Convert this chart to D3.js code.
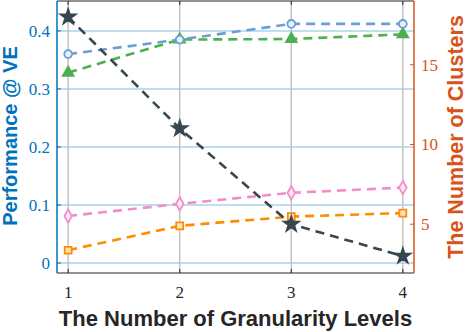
<!DOCTYPE html>
<html>
<head>
<meta charset="utf-8">
<script src="https://cdn.jsdelivr.net/npm/d3@7"></script>
<style>
  body { margin: 0; background: #fff; }
  svg { display: block; }
</style>
</head>
<body>
<div id="chart"></div>
<script>
// Granularity levels vs. performance (left) and cluster count (right)
const levels = [1, 2, 3, 4];
const xTicks = [1, 2, 3, 4];
const leftTicks = [0, 0.1, 0.2, 0.3, 0.4];
const rightTicks = [5, 10, 15];

// left-axis series
const circleVals = [0.360, 0.385, 0.412, 0.412];
const triVals = [0.328, 0.385, 0.386, 0.394];
const diamondVals = [0.081, 0.102, 0.121, 0.130];
const squareVals = [0.022, 0.064, 0.080, 0.086];
// right-axis series
const clusterVals = [18, 11, 5, 3];

const W = 468, H = 332;
const m = { left: 57, right: 54, top: 1, bottom: 59 };

const svg = d3.select("#chart").append("svg").attr("width", W).attr("height", H);

const x = d3.scaleLinear().domain([0.9, 4.1]).range([m.left, W - m.right]);
const yL = d3.scaleLinear().domain([-0.0172, 0.4515]).range([H - m.bottom, m.top]);
const yR = d3.scaleLinear().domain([1.94, 19]).range([H - m.bottom, m.top]);

const x0 = m.left, x1 = W - m.right, yb = H - m.bottom, yt = m.top;
const blue = "#0072BD", orange = "#D95319", dark = "#262626";
const serif = "'Liberation Serif', 'DejaVu Serif', serif";
const sans = "'Liberation Sans', Arial, sans-serif";

// grid
svg.append("g").selectAll("line").data(leftTicks).join("line")
  .attr("x1", x0).attr("x2", x1)
  .attr("y1", d => yL(d)).attr("y2", d => yL(d))
  .attr("stroke", "#a9d3f0").attr("stroke-width", 1.5);
svg.append("g").selectAll("line").data(xTicks).join("line")
  .attr("x1", d => x(d)).attr("x2", d => x(d))
  .attr("y1", yt).attr("y2", yb)
  .attr("stroke", "#c4c4c4").attr("stroke-width", 1.5);

// box
svg.append("line").attr("x1", x0).attr("x2", x1).attr("y1", yt).attr("y2", yt).attr("stroke", dark).attr("stroke-width", 1.2);
svg.append("line").attr("x1", x0).attr("x2", x1).attr("y1", yb).attr("y2", yb).attr("stroke", dark).attr("stroke-width", 1.2);
svg.append("line").attr("x1", x0).attr("x2", x0).attr("y1", yt).attr("y2", yb).attr("stroke", blue).attr("stroke-width", 1.5);
svg.append("line").attr("x1", x1).attr("x2", x1).attr("y1", yt).attr("y2", yb).attr("stroke", orange).attr("stroke-width", 1.5);

// ticks and tick labels
xTicks.forEach(t => {
  svg.append("line").attr("x1", x(t)).attr("x2", x(t)).attr("y1", yb).attr("y2", yb - 4).attr("stroke", dark);
  svg.append("line").attr("x1", x(t)).attr("x2", x(t)).attr("y1", yt).attr("y2", yt + 4).attr("stroke", dark);
  svg.append("text").attr("x", x(t)).attr("y", yb + 25).attr("text-anchor", "middle")
    .attr("font-family", serif).attr("font-size", 17).attr("fill", dark).text(t);
});
leftTicks.forEach(t => {
  svg.append("line").attr("x1", x0).attr("x2", x0 + 4).attr("y1", yL(t)).attr("y2", yL(t)).attr("stroke", blue);
  svg.append("text").attr("x", x0 - 7).attr("y", yL(t) + 6).attr("text-anchor", "end")
    .attr("font-family", serif).attr("font-size", 17).attr("fill", blue).text(t);
});
rightTicks.forEach(t => {
  svg.append("line").attr("x1", x1).attr("x2", x1 - 4).attr("y1", yR(t)).attr("y2", yR(t)).attr("stroke", orange);
  svg.append("text").attr("x", x1 + 7).attr("y", yR(t) + 6).attr("text-anchor", "start")
    .attr("font-family", serif).attr("font-size", 17).attr("fill", orange).text(t);
});

// series
const series = [
  { vals: squareVals, y: yL, color: "#FF8C00", shape: d3.symbolSquare, size: 48, fill: "#ffe6c4" },
  { vals: diamondVals, y: yL, color: "#F28DC8", shape: d3.symbolDiamond, size: 50, fill: "#fde8f4" },
  { vals: triVals, y: yL, color: "#4CAF50", shape: d3.symbolTriangle, size: 50, fill: "#4CAF50" },
  { vals: circleVals, y: yL, color: "#6A9FD4", shape: d3.symbolCircle, size: 48, fill: "#eaf1fa" },
  { vals: clusterVals, y: yR, color: "#37474F", shape: d3.symbolStar, size: 70, fill: "#37474F" }
];

series.forEach(s => {
  const line = d3.line().x((d, i) => x(levels[i])).y(d => s.y(d));
  svg.append("path").datum(s.vals).attr("d", line)
    .attr("fill", "none").attr("stroke", s.color).attr("stroke-width", 2.6)
    .attr("stroke-dasharray", "9,6");
  svg.append("g").selectAll("path").data(s.vals).join("path")
    .attr("transform", (d, i) => `translate(${x(levels[i])},${s.y(d)})`)
    .attr("d", d3.symbol().type(s.shape).size(s.size))
    .attr("fill", s.fill).attr("stroke", s.color).attr("stroke-width", 1.8);
});

// axis titles
svg.append("text").attr("x", (x0 + x1) / 2).attr("y", 326).attr("text-anchor", "middle")
  .attr("font-family", sans).attr("font-weight", "bold").attr("font-size", 22).attr("fill", dark)
  .text("The Number of Granularity Levels");
svg.append("text").attr("transform", `translate(17,136) rotate(-90)`).attr("text-anchor", "middle")
  .attr("font-family", sans).attr("font-weight", "bold").attr("font-size", 20).attr("fill", blue)
  .text("Performance @ VE");
svg.append("text").attr("transform", `translate(463,137) rotate(-90)`).attr("text-anchor", "middle")
  .attr("font-family", sans).attr("font-weight", "bold").attr("font-size", 21.5).attr("fill", orange)
  .text("The Number of Clusters");
</script>
</body>
</html>
